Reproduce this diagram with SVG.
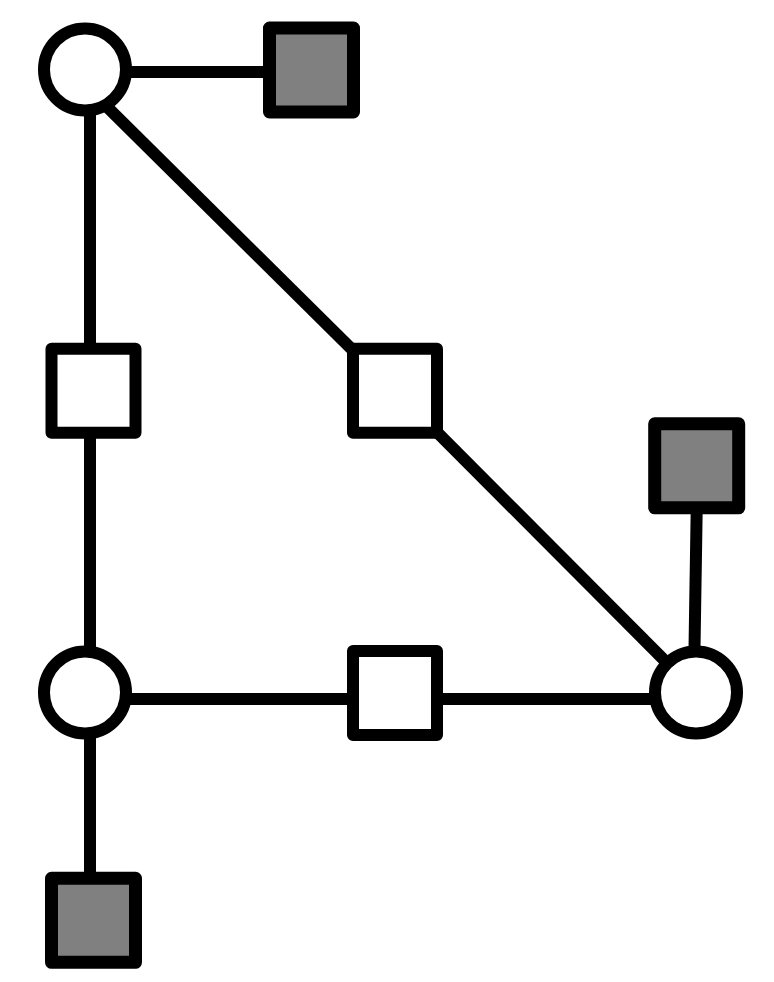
<svg xmlns="http://www.w3.org/2000/svg" width="774" height="982" viewBox="0 0 774 982">
<style>
.e{stroke:#000;stroke-width:12;fill:none;stroke-linecap:butt}
.c{fill:#fff;stroke:#000;stroke-width:12}
.s{fill:#fff;stroke:#000;stroke-width:12;stroke-linejoin:round}
.g{fill:#808080;stroke:#000;stroke-width:13;stroke-linejoin:round}
</style>
<rect width="774" height="982" fill="#fff"/>
<g id="edges">
<line class="e" x1="110" y1="72" x2="280" y2="72"/>
<line class="e" x1="90" y1="90" x2="90" y2="360"/>
<line class="e" x1="90" y1="420" x2="90" y2="680"/>
<line class="e" x1="90" y1="710" x2="90" y2="890"/>
<line class="e" x1="110" y1="699" x2="370" y2="699"/>
<line class="e" x1="420" y1="699" x2="680" y2="699"/>
<line class="e" x1="90" y1="90" x2="395" y2="392"/>
<line class="e" x1="395" y1="390" x2="696" y2="692"/>
<line class="e" x1="697" y1="490" x2="694" y2="680"/>
</g>
<g id="n1"><circle class="c" cx="85" cy="69.5" r="41"/></g>
<g id="n2"><circle class="c" cx="85" cy="692.5" r="41"/></g>
<g id="n3"><circle class="c" cx="696" cy="692.5" r="41"/></g>
<g id="s1"><rect class="g" x="269.5" y="28" width="84" height="84"/></g>
<g id="s2"><rect class="s" x="51.5" y="348.7" width="84" height="84"/></g>
<g id="s3"><rect class="s" x="353" y="348.7" width="84" height="84"/></g>
<g id="s4"><rect class="s" x="353" y="651" width="84" height="84"/></g>
<g id="s5"><rect class="g" x="654.7" y="423.8" width="84" height="84"/></g>
<g id="s6"><rect class="g" x="51.5" y="878.3" width="84" height="84"/></g>
</svg>
